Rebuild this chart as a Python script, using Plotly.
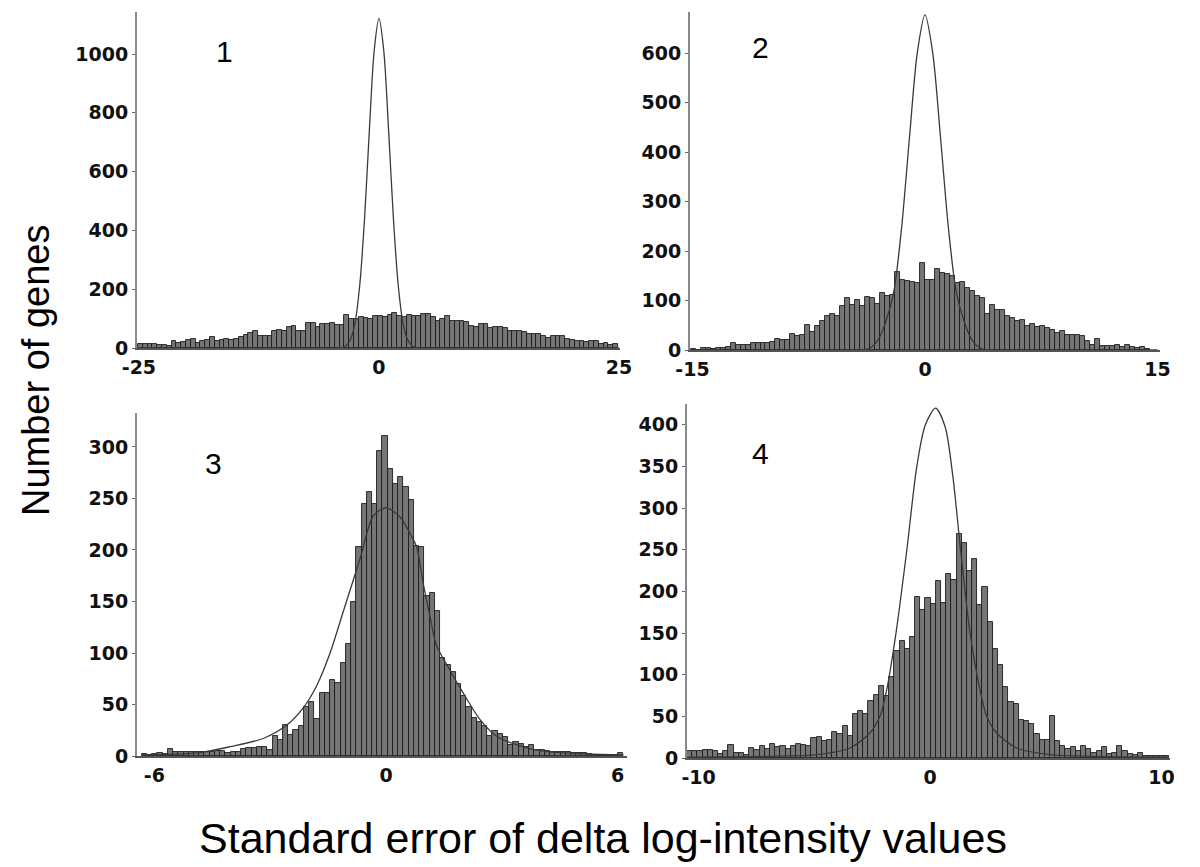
import plotly.graph_objects as go

W, H = 1200, 867
OFF = 8  # page body margin shift compensation

# ---------------- data ----------------
# Panel 1 histogram (bin width 0.5, first bin starts at -25.1)
p1_counts = [12, 14, 14, 13, 11, 10, 8,
             24, 18, 22, 26, 32, 17, 24, 26, 37, 23, 27,
             29, 28, 32, 37, 45, 51, 58, 41, 41, 41,
             58, 60, 58, 71, 76, 57, 57, 86, 85, 71, 80,
             83, 85, 79, 79, 111, 100, 100, 105, 103, 98,
             108, 109, 105, 113, 119, 109, 105, 111, 108, 108,
             115, 115, 105, 92, 100, 108, 91, 92, 92, 88,
             74, 71, 80, 80, 69, 71, 71, 69, 57, 57,
             57, 54, 49, 49, 49, 42, 35, 40, 40, 40, 32,
             26, 24, 24, 20, 24, 24, 15, 17, 11, 15]
p1_bin_start, p1_bin_width = -25.1, 0.5
p1_curve_x = [-25, -4.0, -3.5, -3.0, -2.5, -2.0, -1.5, -1.0, -0.5, 0, 0.5, 1.0, 1.5, 2.0, 2.5, 3.0, 3.5, 4.0, 25]
p1_curve_y = [0, 0, 6, 27, 85, 215, 442, 742, 1011, 1121, 1011, 742, 442, 215, 85, 27, 6, 0, 0]

# Panel 2 histogram
p2_counts = [3, 1, 5, 4, 3, 5, 5, 6, 14, 11, 11, 11, 14, 14, 14, 14, 17, 22, 20, 20,
             32, 28, 30, 50, 37, 48, 59, 69, 73, 69, 88, 106, 91, 102, 89, 107, 106, 92, 116, 109,
             112, 158, 141, 139, 138, 136, 176, 141, 141, 163, 156, 153, 149, 136, 137, 126, 119, 109, 106, 73,
             91, 80, 80, 69, 65, 59, 60, 48, 53, 46, 48, 44, 40, 35, 38, 30, 30, 30, 28, 18,
             11, 22, 9, 8, 8, 10, 6, 11, 6, 5, 7, 3]
p2_bin_start, p2_bin_width = -15.12, 0.322
p2_curve_x = [-15, -4.0, -3.5, -3.0, -2.5, -2.0, -1.5, -1.0, -0.5, 0, 0.5, 1.0, 1.5, 2.0, 2.5, 3.0, 3.5, 4.0, 15]
p2_curve_y = [0, 0, 5, 22, 60, 120, 250, 430, 600, 677, 600, 430, 250, 120, 60, 22, 5, 0, 0]

# Panel 3 histogram
p3_counts = [2, 1, 2, 3, 2, 7, 4, 4, 4, 4, 4, 4, 4, 4, 5, 5, 3, 4, 4, 7,
             8, 8, 9, 9, 6, 19, 16, 30, 20, 25, 29, 48, 52, 36, 61, 61, 74, 71, 90, 109,
             150, 203, 245, 256, 245, 296, 311, 279, 264, 271, 261, 249, 204, 203, 155, 158, 141, 95, 88, 82,
             70, 58, 48, 37, 33, 29, 19, 24, 21, 18, 11, 14, 12, 9, 11, 6, 6, 5, 4, 4,
             4, 4, 3, 3, 3, 2, 1, 1, 1, 1, 1, 3]
p3_bin_start, p3_bin_width = -6.33, 0.1356
p3_curve_x = [-6.33, -4.9, -4.04, -3.18, -2.57, -2.14, -1.80, -1.45, -1.11, -0.67, -0.33, 0, 0.36, 0.62, 0.79, 0.97, 1.14, 1.31, 1.66, 2.0, 2.44, 2.87, 3.73, 4.59, 6.15]
p3_curve_y = [1, 3, 9, 17, 30, 47, 68, 100, 140, 192, 233, 241, 232, 216, 203, 166, 135, 107, 83, 61, 35, 19, 7, 3, 1]

# Panel 4 histogram
p4_counts = [8, 8, 9, 10, 10, 9, 5, 9, 16, 6, 6, 4, 12, 10, 14, 11, 17, 13, 15, 11,
             15, 17, 16, 15, 24, 25, 20, 22, 31, 29, 39, 27, 53, 56, 53, 68, 76, 87, 75, 97,
             128, 140, 131, 145, 193, 178, 192, 185, 213, 186, 221, 214, 269, 258, 225, 239, 184, 205, 163, 131,
             112, 85, 67, 65, 46, 44, 41, 29, 22, 22, 50, 21, 15, 11, 13, 9, 15, 11, 6, 9,
             13, 5, 6, 15, 8, 5, 4, 6, 3, 3, 3, 3, 3]
p4_bin_start, p4_bin_width = -10.5, 0.224
p4_curve_x = [-10.5, -7.0, -4.9, -3.46, -2.6, -2.16, -1.87, -1.47, -1.0, -0.57, -0.2, 0.24, 0.65, 0.98, 1.32, 1.73, 2.16, 2.45, 2.88, 3.74, 5.2, 7.0, 10.3]
p4_curve_y = [1, 2, 4, 12, 30, 50, 82, 150, 250, 350, 400, 420, 398, 340, 250, 150, 82, 50, 30, 12, 4, 2, 1]

panel_labels = ["1", "2", "3", "4"]
x_title = "Standard error of delta log-intensity values"
y_title = "Number of genes"

# ---------------- layout helpers ----------------
def px_dom_x(a, b):
    return [(a - OFF) / W, (b - OFF) / W]

def px_dom_y(top, bottom):
    return [1 - (bottom - OFF) / H, 1 - (top - OFF) / H]

def px_x(x):
    return (x - OFF) / W

def px_y(y):
    return 1 - (y - OFF) / H

panels = [
    dict(counts=p1_counts, start=p1_bin_start, width=p1_bin_width, cx=p1_curve_x, cy=p1_curve_y,
         xdom=px_dom_x(137, 620), ydom=px_dom_y(12, 348), xr=[-25.2, 25.1], yr=[0, 1143],
         xt=[-25, 0, 25], yt=[0, 200, 400, 600, 800, 1000]),
    dict(counts=p2_counts, start=p2_bin_start, width=p2_bin_width, cx=p2_curve_x, cy=p2_curve_y,
         xdom=px_dom_x(690, 1160), ydom=px_dom_y(12, 350), xr=[-15.16, 15.16], yr=[0, 683],
         xt=[-15, 0, 15], yt=[0, 100, 200, 300, 400, 500, 600]),
    dict(counts=p3_counts, start=p3_bin_start, width=p3_bin_width, cx=p3_curve_x, cy=p3_curve_y,
         xdom=px_dom_x(137, 627), ydom=px_dom_y(413, 756), xr=[-6.45, 6.24], yr=[0, 333],
         xt=[-6, 0, 6], yt=[0, 50, 100, 150, 200, 250, 300]),
    dict(counts=p4_counts, start=p4_bin_start, width=p4_bin_width, cx=p4_curve_x, cy=p4_curve_y,
         xdom=px_dom_x(687, 1170), ydom=px_dom_y(404, 758), xr=[-10.5, 10.37], yr=[0, 425],
         xt=[-10, 0, 10], yt=[0, 50, 100, 150, 200, 250, 300, 350, 400]),
]

fig = go.Figure()
tickfont = dict(family="DejaVu Sans", size=19, weight="bold", color="#111111")

for i, p in enumerate(panels):
    n = i + 1
    xa = "x" if n == 1 else f"x{n}"
    ya = "y" if n == 1 else f"y{n}"
    fig.add_trace(go.Bar(
        x0=p["start"] + p["width"] / 2, dx=p["width"], y=p["counts"],
        xaxis=xa, yaxis=ya,
        marker=dict(color="#767676", line=dict(color="#1c1c1c", width=0.9)),
        showlegend=False, hoverinfo="skip"))
    fig.add_trace(go.Scatter(
        x=p["cx"], y=p["cy"], mode="lines", xaxis=xa, yaxis=ya,
        line=dict(color="#3a3a3a", width=1.3, shape="spline", smoothing=0.8),
        showlegend=False, hoverinfo="skip", cliponaxis=True))
    xkey = "xaxis" if n == 1 else f"xaxis{n}"
    ykey = "yaxis" if n == 1 else f"yaxis{n}"
    fig.update_layout({
        xkey: dict(domain=p["xdom"], range=p["xr"], anchor=ya, tickmode="array",
                   tickvals=p["xt"], ticktext=[str(v) for v in p["xt"]], automargin=False,
                   showgrid=False, zeroline=False, showline=True, linecolor="#555555", linewidth=2,
                   ticks="outside", ticklen=1, tickcolor="rgba(0,0,0,0)", tickfont=tickfont),
        ykey: dict(domain=p["ydom"], range=p["yr"], anchor=xa, tickmode="array",
                   tickvals=p["yt"], ticktext=[str(v) for v in p["yt"]], automargin=False,
                   showgrid=False, zeroline=False, showline=True, linecolor="#8a8a8a", linewidth=2,
                   ticks="outside", ticklen=3, tickcolor="#666666", tickfont=tickfont),
    })

label_pos = [(224, 52), (760, 48), (213, 463), (760, 453)]
for lab, (lx, ly) in zip(panel_labels, label_pos):
    fig.add_annotation(x=px_x(lx), y=px_y(ly), xref="paper", yref="paper", text=lab,
                       xanchor="center", yanchor="middle",
                       showarrow=False, font=dict(family="Liberation Sans", size=30, color="#000000"))

fig.add_annotation(x=px_x(603), y=px_y(838), xref="paper", yref="paper", text=x_title,
                   xanchor="center", yanchor="middle",
                   showarrow=False, font=dict(family="Liberation Sans", size=43, color="#000000"))
fig.add_annotation(x=px_x(36), y=px_y(370), xref="paper", yref="paper", text=y_title, textangle=-90,
                   xanchor="center", yanchor="middle",
                   showarrow=False, font=dict(family="Liberation Sans", size=38, color="#000000"))

fig.update_layout(width=W, height=H, margin=dict(l=0, r=0, t=0, b=0, pad=0, autoexpand=False),
                  paper_bgcolor="white", plot_bgcolor="white", bargap=0, barmode="overlay")

fig.write_html("out.html")
